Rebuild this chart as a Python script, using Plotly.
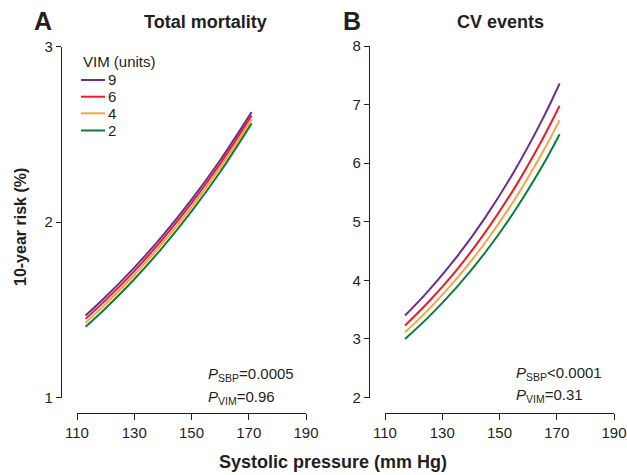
import plotly.graph_objects as go

# ---------------- data ----------------
vim_levels = ["9", "6", "4", "2"]
colors = ["#6f2c91", "#ec1c24", "#f7a445", "#0a7d3b"]

sbp_a = [113, 120, 130, 140, 150, 160, 171]
mort_9 = [1.467, 1.574, 1.740, 1.924, 2.127, 2.352, 2.626]
mort_6 = [1.448, 1.555, 1.720, 1.904, 2.107, 2.332, 2.607]
mort_4 = [1.426, 1.532, 1.698, 1.881, 2.084, 2.309, 2.585]
mort_2 = [1.403, 1.509, 1.674, 1.857, 2.060, 2.285, 2.562]

sbp_b = [117, 125, 135, 145, 155, 165, 171]
cv_9 = [3.400, 3.812, 4.396, 5.071, 5.850, 6.747, 7.360]
cv_6 = [3.230, 3.621, 4.176, 4.818, 5.557, 6.410, 6.980]
cv_4 = [3.115, 3.492, 4.028, 4.646, 5.359, 6.182, 6.735]
cv_2 = [3.000, 3.363, 3.879, 4.475, 5.162, 5.954, 6.495]

x_ticks = [110, 130, 150, 170, 190]
y_ticks_a = [1, 2, 3]
y_ticks_b = [2, 3, 4, 5, 6, 7, 8]

W, H = 627, 475
FONT = "Liberation Sans, Arial, sans-serif"
INK = "#231f20"


def fx(p):
    return p / W


def fy(p):
    return 1 - p / H


fig = go.Figure()

for name, col, ys in zip(vim_levels, colors, [mort_9, mort_6, mort_4, mort_2]):
    fig.add_trace(go.Scatter(x=sbp_a, y=ys, mode="lines", name=name,
                             line=dict(color=col, width=2, shape="spline"),
                             xaxis="x", yaxis="y", showlegend=False))
for name, col, ys in zip(vim_levels, colors, [cv_9, cv_6, cv_4, cv_2]):
    fig.add_trace(go.Scatter(x=sbp_b, y=ys, mode="lines", name=name,
                             line=dict(color=col, width=2, shape="spline"),
                             xaxis="x2", yaxis="y2", showlegend=False))

axis_common = dict(showgrid=False, zeroline=False, showline=True, linecolor=INK,
                   linewidth=1.3, ticks="outside", tickcolor=INK, tickwidth=1.3,
                   tickfont=dict(family=FONT, size=15, color=INK), anchor="free",
                   automargin=False)

fig.update_layout(
    width=W, height=H,
    margin=dict(l=0, r=0, t=0, b=0, pad=0, autoexpand=False),
    paper_bgcolor="white", plot_bgcolor="white", showlegend=False,
    xaxis=dict(axis_common, domain=[fx(77), fx(306)], range=[110, 190],
               tickvals=x_ticks, ticklen=6, position=fy(413)),
    yaxis=dict(axis_common, domain=[fy(397.5), fy(46.5)], range=[1, 3],
               tickvals=y_ticks_a, ticklen=5, position=fx(61)),
    xaxis2=dict(axis_common, domain=[fx(385), fx(614)], range=[110, 190],
                tickvals=x_ticks, ticklen=6, position=fy(413)),
    yaxis2=dict(axis_common, domain=[fy(397.5), fy(46)], range=[2, 8],
                tickvals=y_ticks_b, ticklen=5, position=fx(369)),
)

ann = []


def text(x, y, s, size=15, xanchor="center", angle=0):
    ann.append(dict(x=fx(x), y=fy(y), xref="paper", yref="paper", text=s,
                    showarrow=False, xanchor=xanchor, yanchor="middle",
                    textangle=angle,
                    font=dict(family=FONT, size=size, color=INK)))


text(43, 21, "<b>A</b>", size=25)
text(352, 21, "<b>B</b>", size=25)
text(205, 22, "<b>Total mortality</b>", size=18)
text(501, 22, "<b>CV events</b>", size=18)
text(333, 462, "<b>Systolic pressure (mm Hg)</b>", size=18)
text(20, 227, "<b>10-year risk (%)</b>", size=16, angle=-90)

text(206, 374, "<i>P</i><sub>SBP</sub>=0.0005", xanchor="left")
text(206, 397, "<i>P</i><sub>VIM</sub>=0.96", xanchor="left")
text(514, 373, "<i>P</i><sub>SBP</sub><0.0001", xanchor="left")
text(514, 395, "<i>P</i><sub>VIM</sub>=0.31", xanchor="left")

# legend
text(81, 61, "VIM (units)", xanchor="left")
shapes = []
rows = [80, 96.7, 113.3, 130.5]
for name, col, yy in zip(vim_levels, colors, rows):
    shapes.append(dict(type="line", xref="paper", yref="paper",
                       x0=fx(81), x1=fx(105), y0=fy(yy), y1=fy(yy),
                       line=dict(color=col, width=2)))
    text(106, yy, name, xanchor="left")

fig.update_layout(annotations=ann, shapes=shapes)
fig.write_html("out.html", config={"displayModeBar": False},
               post_script="document.body.style.margin='0';"
                           "document.body.style.overflow='hidden';")
